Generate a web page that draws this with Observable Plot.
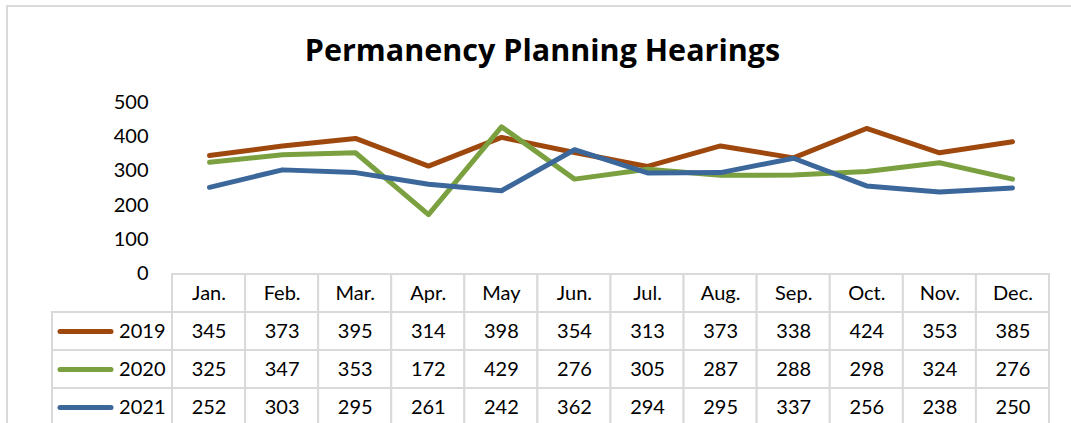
<!DOCTYPE html>
<html>
<head>
<meta charset="utf-8">
<script src="https://cdn.jsdelivr.net/npm/d3@7"></script>
<script src="https://cdn.jsdelivr.net/npm/@observablehq/plot@0.6"></script>
<style>
  body { margin: 0; background: #fff; }
  #wrap { position: relative; width: 1071px; height: 423px; overflow: hidden; background: #fff; font-family: Lato, sans-serif; }
  #frame { position: absolute; left: 6px; top: 5px; width: 1100px; height: 500px; border-top: 2px solid #d9d9d9; border-left: 2px solid #d9d9d9; box-sizing: border-box; }
  #title { position: absolute; left: 0; width: 1085px; top: 28px; text-align: center; font-family: "Open Sans", sans-serif; font-weight: bold; font-size: 30.5px; line-height: 42px; color: #000; }
  #chart { position: absolute; left: 0; top: 0; }
  #table { position: absolute; left: 0; top: 272px; }
  svg { overflow: visible; }
</style>
</head>
<body>
<div id="wrap">
  <div id="frame"></div>
  <div id="title">Permanency Planning Hearings</div>
  <div id="chart"></div>
  <div id="table"></div>
</div>
<script>
const months = ["Jan.", "Feb.", "Mar.", "Apr.", "May", "Jun.", "Jul.", "Aug.", "Sep.", "Oct.", "Nov.", "Dec."];
const years = ["2019", "2020", "2021"];
const v2019 = [345, 373, 395, 314, 398, 354, 313, 373, 338, 424, 353, 385];
const v2020 = [325, 347, 353, 172, 429, 276, 305, 287, 288, 298, 324, 276];
const v2021 = [252, 303, 295, 261, 242, 362, 294, 295, 337, 256, 238, 250];
const yTicks = [0, 100, 200, 300, 400, 500];
const colors = ["#9E480E", "#7AA03F", "#3B679B"];

const series = [v2019, v2020, v2021];
const rows = years.flatMap((yr, k) => series[k].map((v, i) => ({year: yr, month: months[i], value: v})));

const W = 1071, left = 172, right = 22;
const font = {fontFamily: "Lato, sans-serif", fontSize: "20px", color: "#000", background: "transparent", overflow: "visible"};

const chart = Plot.plot({
  width: W, height: 274,
  marginLeft: left, marginRight: right, marginTop: 102, marginBottom: 1,
  x: {type: "point", domain: months, padding: 0.5, align: 0.5, axis: null},
  y: {domain: [0, 500], axis: null},
  color: {domain: years, range: colors},
  style: font,
  marks: [
    Plot.axisY({ticks: yTicks, tickSize: 0, tickPadding: 24, label: null, fontSize: 20, fill: "#000"}),
    Plot.line(rows, {x: "month", y: "value", z: "year", stroke: "year", strokeWidth: 5, strokeLinecap: "round", strokeLinejoin: "round"})
  ]
});
document.getElementById("chart").appendChild(chart);

// data table
const colW = (W - left - right) / months.length;
const legendW = (left - 52) / colW;
const tRows = ["", ...years];
const headerCells = months.map((m, i) => ({row: "", i, text: m}));
const valueCells = years.flatMap((yr, k) => series[k].map((v, i) => ({row: yr, i, text: String(v)})));
const legendCells = years.map((yr, k) => ({row: yr, color: colors[k]}));
const cellStyle = {fill: "white", stroke: "#d9d9d9", strokeWidth: 2};

const table = Plot.plot({
  width: W, height: 156,
  marginLeft: 52, marginRight: right, marginTop: 2, marginBottom: 2,
  x: {type: "linear", domain: [-legendW, months.length], axis: null},
  y: {type: "band", domain: tRows, padding: 0, axis: null},
  style: font,
  marks: [
    Plot.barX([...headerCells, ...valueCells], {x1: "i", x2: d => d.i + 1, y: "row", ...cellStyle}),
    Plot.barX(legendCells, {x1: -legendW, x2: 0, y: "row", ...cellStyle}),
    Plot.text([...headerCells, ...valueCells], {x: d => d.i + 0.5, y: "row", text: "text", fontSize: 20, fill: "#000"}),
    Plot.text(legendCells, {x: 0, y: "row", text: "row", textAnchor: "end", dx: -7, fontSize: 20, fill: "#000"}),
    Plot.link(legendCells, {
      x1: -legendW + 7.5 / colW, x2: -legendW + 58.5 / colW,
      y1: "row", y2: "row", stroke: "color", strokeWidth: 5, strokeLinecap: "round"
    })
  ]
});
document.getElementById("table").appendChild(table);
</script>
</body>
</html>
